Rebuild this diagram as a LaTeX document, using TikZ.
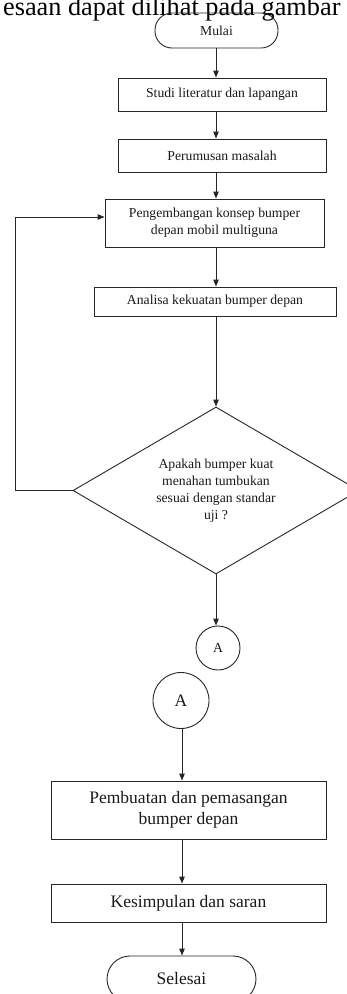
\documentclass[tikz,border=0pt]{standalone}
\usepackage{fontspec}
\setmainfont{Liberation Serif}
\usetikzlibrary{shapes.geometric,arrows.meta}
\begin{document}
\begin{tikzpicture}[x=1pt,y=-1pt,
  line/.style={draw=black!85,line width=0.9pt},
  arr/.style={line,-{Triangle[length=7pt,width=5.5pt]}},
  smalltxt/.style={font=\fontsize{13.7}{17}\selectfont,text=black!90},
  bigtxt/.style={font=\fontsize{17.5}{21}\selectfont,text=black!90},
  procbox/.style={line,rectangle,inner sep=0pt,align=center},
  termbox/.style={line,rectangle,rounded corners=17pt,inner sep=0pt,align=center},
  conn/.style={line,circle,inner sep=0pt},
  decbox/.style={line,diamond,inner sep=0pt,align=center}]
\useasboundingbox (0,0) rectangle (347,994);
\clip (0,0) rectangle (347,994);

\node[anchor=base east,font=\fontsize{26.3}{30}\selectfont,text=black] (head) at (344,15) {esaan dapat dilihat pada gambar};

\node[termbox,smalltxt,minimum width=123pt,minimum height=35pt] (mulai) at (216.5,30.5) {Mulai};
\node[procbox,smalltxt,minimum width=208pt,minimum height=33pt] (studi) at (222,94.5) {Studi literatur dan lapangan};
\node[procbox,smalltxt,minimum width=208pt,minimum height=33pt] (perum) at (222,155.5) {Perumusan masalah};
\node[procbox,smalltxt,minimum width=219pt,minimum height=48pt] (peng) at (214.5,223) {Pengembangan konsep bumper\\depan mobil multiguna};
\node[procbox,smalltxt,minimum width=242pt,minimum height=29pt] (anal) at (215,301.5) {Analisa kekuatan bumper depan};
\node[decbox,smalltxt,minimum width=286pt,minimum height=167pt,aspect=1.71] (dec) at (216,490.5) {Apakah bumper kuat\\menahan tumbukan\\sesuai dengan standar\\uji ?};
\node[conn,smalltxt,minimum size=44pt] (a1) at (218,648) {A};
\node[conn,bigtxt,minimum size=56pt] (a2) at (181,700.5) {A};
\node[procbox,bigtxt,minimum width=275pt,minimum height=58pt] (pemb) at (188.5,810) {Pembuatan dan pemasangan\\bumper depan};
\node[procbox,bigtxt,minimum width=275pt,minimum height=38pt] (kesim) at (188.5,903) {Kesimpulan dan saran};
\node[line,rectangle,rounded corners=23pt,inner sep=0pt,bigtxt,minimum width=149pt,minimum height=46pt] (selesai) at (181.5,979) {Selesai};

\coordinate (x1) at (216,0);
\coordinate (x2) at (182,0);
\draw[arr] (x1 |- mulai.south) -- (x1 |- studi.north);
\draw[arr] (x1 |- studi.south) -- (x1 |- perum.north);
\draw[arr] (x1 |- perum.south) -- (x1 |- peng.north);
\draw[arr] (x1 |- peng.south) -- (x1 |- anal.north);
\draw[arr] (x1 |- anal.south) -- (dec.north);
\draw[arr] (dec.south) -- (dec.south |- a1.north);
\coordinate (loop) at (15,0);
\coordinate (pin) at ([yshift=6pt]peng.west);
\draw[arr] (dec.west) -- (loop |- dec.west) |- (pin);
\draw[arr] (x2 |- a2.south) -- (x2 |- pemb.north);
\draw[arr] (x2 |- pemb.south) -- (x2 |- kesim.north);
\draw[arr] (x2 |- kesim.south) -- (x2 |- selesai.north);
\end{tikzpicture}
\end{document}
